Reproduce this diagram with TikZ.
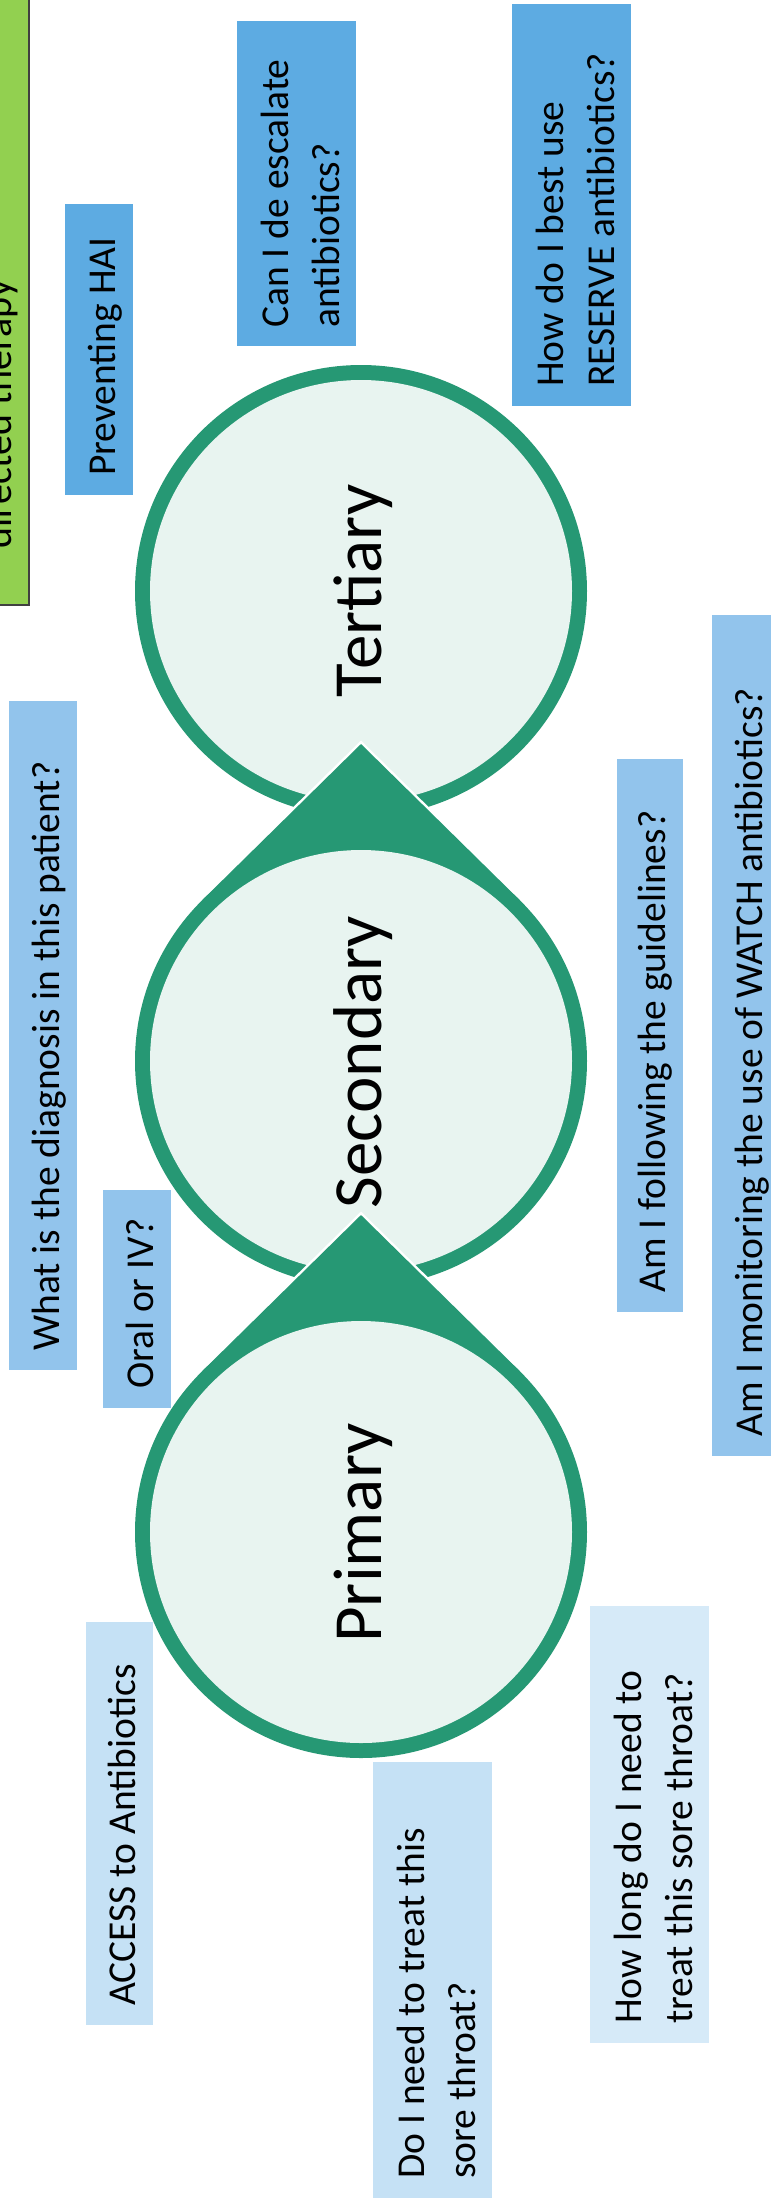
\documentclass[tikz,border=0pt]{standalone}
\usepackage{fontspec}
\setmainfont{Carlito}
\usetikzlibrary{fit}
\definecolor{ringgreen}{RGB}{38,152,116}
\definecolor{ringfill}{RGB}{232,244,240}
\definecolor{qdark}{RGB}{93,171,226}
\definecolor{qmid}{RGB}{146,196,236}
\definecolor{qlight}{RGB}{197,225,245}
\definecolor{qpale}{RGB}{214,234,248}
\definecolor{leafgreen}{RGB}{146,208,80}
\begin{document}
\begin{tikzpicture}[x=1pt,y=-1pt,
  qbox/.style={inner sep=0pt, outer sep=0pt, draw=none},
  qtext/.style={rotate=90, anchor=base west, inner sep=0pt, align=left,
    font=\fontsize{39.5}{51}\selectfont},
  stagelabel/.style={rotate=90, anchor=base, inner sep=0pt,
    font=\fontsize{69}{80}\selectfont},
  ring/.style={circle, inner sep=0pt, outer sep=0pt, minimum size=452pt, fill=ringgreen},
  core/.style={circle, inner sep=0pt, outer sep=0pt, minimum size=422pt, fill=ringfill},
  halo/.style={draw=white, line width=5pt, line join=miter},
]
\useasboundingbox (0,0) rectangle (771,2206);

% green box (mostly outside the picture)
\node[fit={(-20,-20) (29,605)}, inner sep=0pt, fill=leafgreen, draw=black!75, line width=2pt] (gbox) {};
\node[rotate=90, anchor=base, inner sep=0pt, font=\fontsize{40}{51}\selectfont] (gtext) at (11,414) {directed therapy};

% Tertiary
\node[ring] (tring) at (361,591) {};
\node[core] (tcore) at (361,591) {};
\node[stagelabel] (tlabel) at (381,591) {Tertiary};

% Secondary (teardrop pointing up)
\path[halo] (361,1061) circle[radius=226pt];
\path[halo] (361,744) -- (519.5,899.9) -- (202.5,899.9) -- cycle;
\node[ring] (sring) at (361,1061) {};
\fill[ringgreen] (361,744) -- (519.5,899.9) -- (202.5,899.9) -- cycle;
\node[core] (score) at (361,1061) {};
\node[stagelabel] (slabel) at (381,1062) {Secondary};

% Primary (teardrop pointing up)
\path[halo] (361,1532) circle[radius=226pt];
\path[halo] (361,1215) -- (519.5,1370.9) -- (202.5,1370.9) -- cycle;
\node[ring] (pring) at (361,1532) {};
\fill[ringgreen] (361,1215) -- (519.5,1370.9) -- (202.5,1370.9) -- cycle;
\node[core] (pcore) at (361,1532) {};
\node[stagelabel] (plabel) at (381,1533) {Primary};

% question boxes (text anchors: baseline of the last line, start of the line)
\node[qbox, fill=qdark, fit={(65,204) (133,495)}] (q1) {};
\node[qtext] (t1) at (115,476) {Preventing HAI};

\node[qbox, fill=qdark, fit={(237,21) (356,346)}] (q2) {};
\node[qtext] (t2) at (339,328) {Can I de escalate\\antibiotics?};

\node[qbox, fill=qdark, fit={(512,4) (631,406)}] (q3) {};
\node[qtext] (t3) at (614,387) {How do I best use\\RESERVE antibiotics?};

\node[qbox, fill=qmid, fit={(9,701) (77,1370)}] (q4) {};
\node[qtext] (t4) at (59,1351) {What is the diagnosis in this patient?};

\node[qbox, fill=qmid, fit={(103,1190) (171,1408)}] (q5) {};
\node[qtext] (t5) at (153,1389) {Oral or IV?};

\node[qbox, fill=qmid, fit={(617,759) (683,1312)}] (q6) {};
\node[qtext] (t6) at (665,1293) {Am I following the guidelines?};

\node[qbox, fill=qmid, fit={(712,615) (780,1456)}] (q7) {};
\node[qtext] (t7) at (762,1437) {Am I monitoring the use of WATCH antibiotics?};

\node[qbox, fill=qlight, fit={(86,1622) (153,2025)}] (q8) {};
\node[qtext] (t8) at (135,2006) {ACCESS to Antibiotics};

\node[qbox, fill=qlight, fit={(373,1762) (492,2198)}] (q9) {};
\node[qtext] (t9) at (475,2179) {Do I need to treat this\\sore throat?};

\node[qbox, fill=qpale, fit={(590,1606) (709,2043)}] (q10) {};
\node[qtext] (t10) at (692,2024) {How long do I need to\\treat this sore throat?};
\end{tikzpicture}
\end{document}
